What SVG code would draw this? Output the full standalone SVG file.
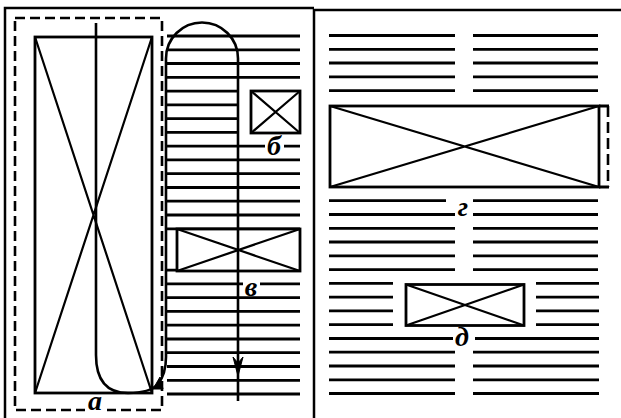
<svg xmlns="http://www.w3.org/2000/svg" width="621" height="418" viewBox="0 0 621 418">
<style>
.frame{stroke:#000;stroke-width:2.5;fill:none}
.row{stroke:#000;stroke-width:2.8;fill:none}
.box{stroke:#000;stroke-width:2.8;fill:#fff}
.diag{stroke:#000;stroke-width:2.2;fill:none}
.dash{stroke:#000;stroke-width:2.6;fill:none;stroke-dasharray:10 5}
.path{stroke:#000;stroke-width:2.6;fill:none}
.lbl{font-family:"Liberation Serif","DejaVu Serif",serif;font-style:italic;font-weight:bold;font-size:28px;fill:#000;text-anchor:middle}
</style>
<rect width="621" height="418" fill="#fff"/>
<g id="frame">
<path class="frame" d="M5,418 V8 H314 M314,418 V9 M314,10 H621"/>
</g>
<g id="left-text-rows">
<path class="row" d="M167,36H300M167,49.8H300M167,63.5H300M167,77.3H300M167,91.1H238M167,104.9H238M167,118.6H238M167,132.4H238M167,146.2H265M284,146.2H300M167,159.9H300M167,173.7H300M167,187.5H300M167,201.2H300M167,215H300M167,228.8H300M167,270.1H300M167,283.9H243M260,283.9H300M167,297.6H300M167,311.4H300M167,325.2H300M167,339H300M167,352.7H300M167,366.5H300M167,380.3H300M167,394H300"/>
</g>
<g id="right-text-rows">
<path class="row" d="M329,35.5H455M473,35.5H598M329,49.3H455M473,49.3H598M329,63H455M473,63H598M329,76.8H455M473,76.8H598M329,90.6H455M473,90.6H598M329,200.7H446M473,200.7H598M329,214.5H455M473,214.5H598M329,228.3H455M473,228.3H598M329,242H455M473,242H598M329,255.8H455M473,255.8H598M329,269.6H455M473,269.6H598M329,283.4H393M536,283.4H599M329,297.1H393M536,297.1H599M329,310.9H393M536,310.9H599M329,324.7H393M536,324.7H599M329,338.5H453M475,338.5H599M329,352.2H455M473,352.2H599M329,366H455M473,366H599M329,379.8H455M473,379.8H599M329,393.5H455M473,393.5H599"/>
</g>
<g id="node-a">
<rect class="dash" x="15" y="18" width="147" height="392"/>
<rect x="85" y="400" width="22" height="14" fill="#fff"/>
<rect class="box" x="35" y="37" width="117" height="356"/>
<path class="diag" d="M35,37L152,393M152,37L35,393"/>
<text class="lbl" x="95" y="410">а</text>
</g>
<g id="node-b">
<rect class="box" x="251" y="91" width="49" height="42"/>
<path class="diag" d="M251,91L300,133M300,91L251,133"/>
<rect x="266" y="140" width="17" height="12" fill="#fff"/>
<text class="lbl" x="274" y="155">б</text>
</g>
<g id="node-v">
<rect class="box" x="177" y="229" width="123" height="42"/>
<path class="diag" d="M177,229L300,271M300,229L177,271"/>
<text class="lbl" x="251" y="296">в</text>
</g>
<g id="node-g">
<path class="dash" d="M608,106V187" style="stroke-dasharray:11 5"/>
<path class="row" d="M599,106H609M599,187H609"/>
<rect class="box" x="330" y="106" width="269" height="81"/>
<path class="diag" d="M330,106L599,187M599,106L330,187"/>
<text class="lbl" x="463" y="216">г</text>
</g>
<g id="node-d">
<rect class="box" x="406" y="284.5" width="118" height="41"/>
<path class="diag" d="M406,284.5L524,325.5M524,284.5L406,325.5"/>
<text class="lbl" x="462" y="346">д</text>
</g>
<g id="connectors">
<path class="path" d="M96,23V355Q96,393 128,393Q150,393 158,384Q166,374 166,357V58.5A36,36 0 0 1 238,58.5V401"/>
<path d="M153,389L160,377L163,389Z" fill="#000" stroke="#000" stroke-width="1"/>
<path d="M233,357L238,363L243,357L238,376Z" fill="#000" stroke="#000" stroke-width="1"/>
</g>
</svg>
